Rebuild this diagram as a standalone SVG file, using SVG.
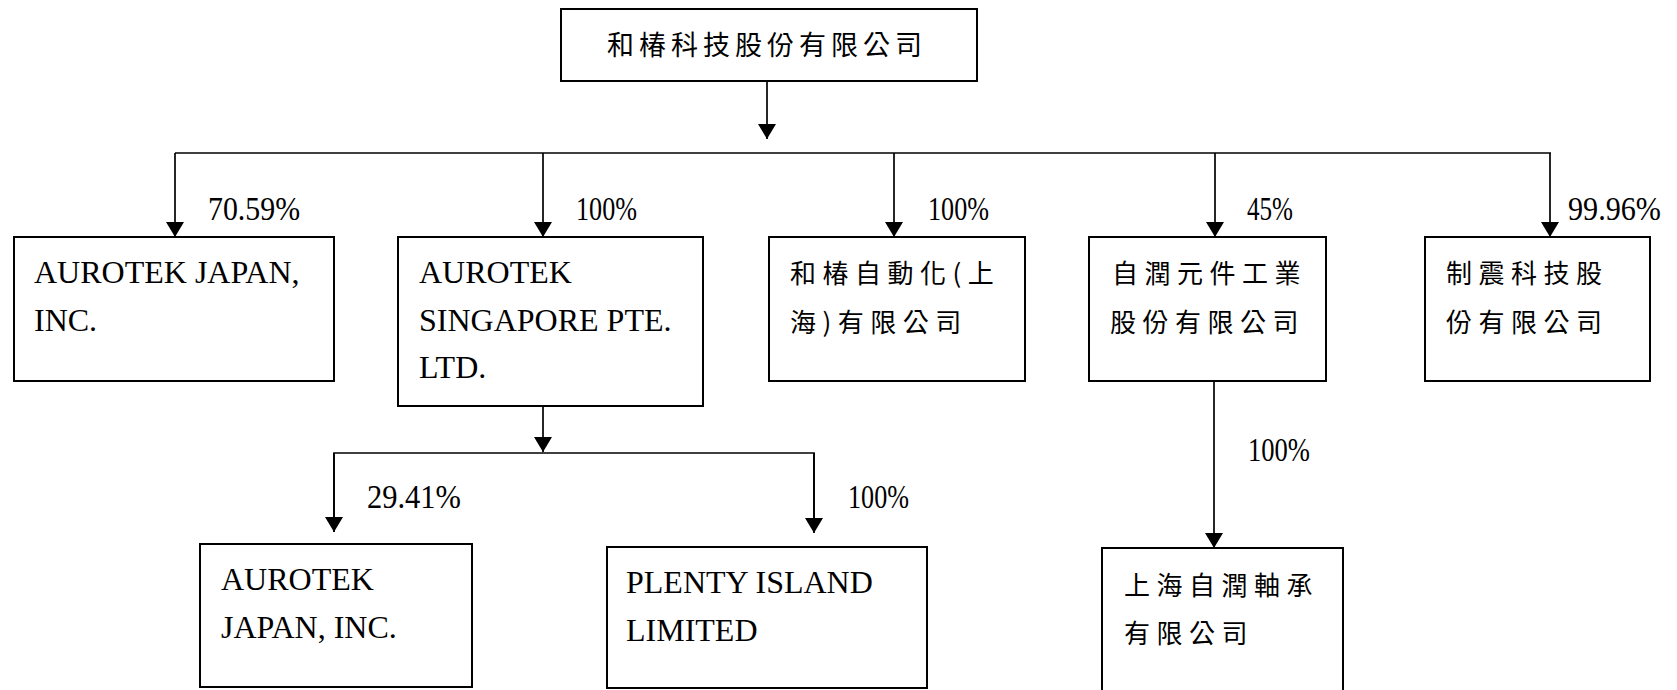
<svg xmlns="http://www.w3.org/2000/svg" width="1677" height="690" viewBox="0 0 1677 690">
<defs>
<marker id="arr" viewBox="0 0 15 18" markerWidth="15" markerHeight="18" refX="15" refY="9" orient="auto" markerUnits="userSpaceOnUse">
<path d="M0,0 L15,9 L0,18 z" fill="#000"/>
</marker>
<style>
.box{fill:#fff;stroke:#000;stroke-width:2}
.ln{fill:none;stroke:#000;stroke-width:1.7}
.ar{fill:none;stroke:#000;stroke-width:1.7;marker-end:url(#arr)}
.en{font-family:"Liberation Serif","Times New Roman",serif;font-size:32px;fill:#000}
.zh{font-family:"Noto Sans CJK TC","Noto Sans CJK SC",sans-serif;font-size:26px;letter-spacing:6.5px;fill:#000}
.pc{font-family:"Liberation Serif","Times New Roman",serif;font-size:34px;fill:#000}
</style>
</defs>
<rect width="1677" height="690" fill="#fff"/>
<g id="connectors">
<line class="ar" x1="767" y1="81" x2="767" y2="139"/>
<line class="ln" x1="175" y1="153" x2="1551" y2="153"/>
<line class="ar" x1="175" y1="153" x2="175" y2="237"/>
<line class="ar" x1="543" y1="153" x2="543" y2="237"/>
<line class="ar" x1="894" y1="153" x2="894" y2="237"/>
<line class="ar" x1="1215" y1="153" x2="1215" y2="237"/>
<line class="ar" x1="1550" y1="153" x2="1550" y2="237"/>
<line class="ar" x1="543" y1="406" x2="543" y2="452"/>
<polyline class="ln" points="334,532 334,453 814,453 814,532"/>
<line class="ar" x1="334" y1="453" x2="334" y2="532"/>
<line class="ar" x1="814" y1="453" x2="814" y2="533"/>
<line class="ar" x1="1214" y1="381" x2="1214" y2="548"/>
<text class="pc" x="208" y="219.5" textLength="92" lengthAdjust="spacingAndGlyphs">70.59%</text>
<text class="pc" x="576" y="219.5" textLength="61" lengthAdjust="spacingAndGlyphs">100%</text>
<text class="pc" x="928" y="219.5" textLength="61" lengthAdjust="spacingAndGlyphs">100%</text>
<text class="pc" x="1247" y="219.5" textLength="46" lengthAdjust="spacingAndGlyphs">45%</text>
<text class="pc" x="1568" y="220" textLength="93" lengthAdjust="spacingAndGlyphs">99.96%</text>
<text class="pc" x="367" y="508" textLength="94" lengthAdjust="spacingAndGlyphs">29.41%</text>
<text class="pc" x="848" y="508" textLength="61" lengthAdjust="spacingAndGlyphs">100%</text>
<text class="pc" x="1248" y="460.5" textLength="62" lengthAdjust="spacingAndGlyphs">100%</text>
</g>
<g id="n-root">
<rect class="box" x="561" y="9" width="416" height="72"/>
<text class="zh" x="607" y="54.5" style="font-size:27px;letter-spacing:5px">和椿科技股份有限公司</text>
</g>
<g id="n-japan">
<rect class="box" x="14" y="237" width="320" height="144"/>
<text class="en" x="34" y="283.3">AUROTEK JAPAN,</text>
<text class="en" x="34" y="331">INC.</text>
</g>
<g id="n-singapore">
<rect class="box" x="398" y="237" width="305" height="169"/>
<text class="en" x="419" y="283.3">AUROTEK</text>
<text class="en" x="419" y="331">SINGAPORE PTE.</text>
<text class="en" x="419" y="378.3">LTD.</text>
</g>
<g id="n-shanghai-auto">
<rect class="box" x="769" y="237" width="256" height="144"/>
<text class="zh" x="790" y="283">和椿自動化(上</text>
<text class="zh" x="790" y="331.5">海)有限公司</text>
</g>
<g id="n-zirun">
<rect class="box" x="1089" y="237" width="237" height="144"/>
<text class="zh" x="1112" y="283">自潤元件工業</text>
<text class="zh" x="1110" y="331.5">股份有限公司</text>
</g>
<g id="n-zhizhen">
<rect class="box" x="1425" y="237" width="225" height="144"/>
<text class="zh" x="1446" y="283">制震科技股</text>
<text class="zh" x="1446" y="331.5">份有限公司</text>
</g>
<g id="n-japan2">
<rect class="box" x="200" y="544" width="272" height="143"/>
<text class="en" x="221" y="590">AUROTEK</text>
<text class="en" x="221" y="638.3">JAPAN, INC.</text>
</g>
<g id="n-plenty">
<rect class="box" x="607" y="547" width="320" height="141"/>
<text class="en" x="626" y="593">PLENTY ISLAND</text>
<text class="en" x="626" y="641">LIMITED</text>
</g>
<g id="n-shanghai-bearing">
<rect class="box" x="1102" y="548" width="241" height="152"/>
<text class="zh" x="1124" y="595">上海自潤軸承</text>
<text class="zh" x="1124" y="643">有限公司</text>
</g>
</svg>
